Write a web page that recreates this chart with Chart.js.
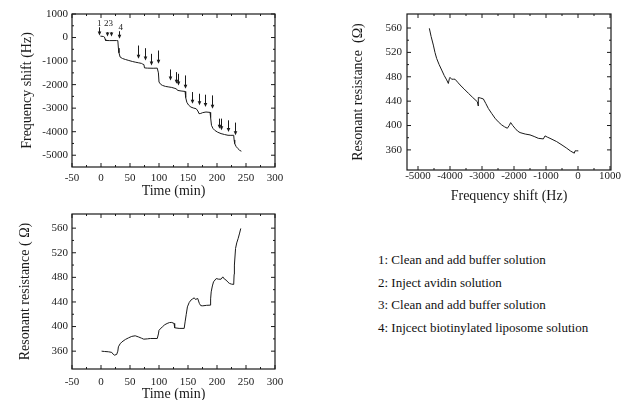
<!DOCTYPE html>
<html>
<head>
<meta charset="utf-8">
<script src="https://cdn.jsdelivr.net/npm/chart.js@4.4.0/dist/chart.umd.min.js"></script>
<style>
  body { margin: 0; width: 631px; height: 400px; overflow: hidden; background: #fff; position: relative; }
  .pane { position: absolute; }
  .note { position: absolute; left: 378px; font: 13px 'Liberation Serif', serif; color: #111; white-space: nowrap; line-height: 16px; }
</style>
</head>
<body>
<div class="pane" style="left:0;top:0"><canvas id="freqChart" width="320" height="200"></canvas></div>
<div class="pane" style="left:320px;top:0"><canvas id="xyChart" width="311" height="205"></canvas></div>
<div class="pane" style="left:0;top:200px"><canvas id="resChart" width="320" height="203"></canvas></div>
<div id="notes"></div>
<script>
// 周波数シフト vs 時間
const timeF = [-1, 4, 6, 7, 8, 15, 27, 29, 30, 31, 33, 37, 42, 48, 54, 60, 65, 70, 72, 74, 75, 80, 90, 97, 99, 100, 103, 106, 111, 117, 122, 126, 130, 132, 138, 145, 146, 148, 151, 155, 160, 164, 167, 169, 172, 175, 181, 188, 189, 190.5, 193, 196, 201, 207, 213, 219, 224, 228.8, 229.5, 230.5, 233, 236, 239, 242];
const freqShift = [60, 45, 20, -60, -125, -130, -128, -130, -450, -650, -830, -890, -932, -975, -1017, -1050, -1074, -1100, -1130, -1150, -1290, -1300, -1305, -1300, -1500, -1890, -1990, -2034, -2075, -2100, -2120, -2150, -2180, -2245, -2270, -2290, -2550, -2750, -2870, -2954, -3000, -3022, -3120, -3235, -3225, -3192, -3164, -3180, -3400, -3730, -3860, -3940, -4020, -4082, -4120, -4153, -4155, -4153, -4350, -4505, -4630, -4717, -4790, -4830];

// 共振抵抗 vs 時間
const timeR = [1, 6, 12.8, 18.6, 21, 23, 27, 29, 30, 33, 36, 42, 47.6, 53, 59, 65, 70, 73.7, 80, 85, 97, 99, 100, 105.7, 110, 114, 118, 122, 126, 127, 134.7, 143.4, 145, 147, 149, 152, 155, 158, 160.8, 163, 166.7, 169.6, 172, 175.4, 182, 188, 189, 190, 192, 194, 198.6, 203, 207, 210, 213, 216, 219, 221.8, 225, 228.8, 229.5, 230, 232, 234, 236.4, 239, 241];
const resistTime = [360, 359.5, 359, 358, 355, 353.5, 354.6, 360, 367, 372, 375, 379, 381.7, 384, 385, 383, 381, 379.5, 380, 380.6, 380.6, 388, 394, 399.5, 403, 405, 406.5, 406.7, 405, 398, 397, 397, 407.6, 420, 432, 439, 443, 445, 446.7, 444, 445.7, 437.6, 434, 433.7, 434.5, 434.8, 445, 456.4, 466, 472.7, 478, 477, 477, 480.8, 477, 475.4, 472, 470, 469, 468.5, 485, 500, 527, 536, 543, 552, 559.5];

// 共振抵抗 vs 周波数シフト
const shiftR = [-4646, -4590, -4521, -4470, -4417, -4340, -4260, -4180, -4104, -4052, -4020, -4000, -3950, -3896, -3844, -3760, -3687, -3560, -3427, -3290, -3146, -3115, -3115, -3040, -2958, -2880, -2802, -2700, -2594, -2490, -2385, -2300, -2208, -2150, -2104, -2040, -1969, -1890, -1812, -1650, -1500, -1370, -1240, -1083, -1031, -960, -875, -667, -500, -354, -230, -115, -94, -40, 10];
const resistShift = [559.5, 546, 532, 520, 510, 500, 491, 482, 474.8, 469, 477, 479, 476, 476, 476, 471, 466.6, 460, 453, 446, 439, 432, 446, 445, 443.6, 436, 428, 420, 412, 406, 401, 398, 395.5, 400, 404.8, 400, 395.5, 391, 388.4, 386, 384.6, 382, 379, 378, 383, 381, 379, 373.6, 368, 362.8, 358, 354.6, 358.4, 358.5, 358.4];

// 注入の矢印 (時間, 上端, 先端)
const arrowTime = [-3, 11, 17, 31, 64, 75.4, 86.6, 98.8, 118.5, 129, 132.4, 145, 156.8, 168.5, 180, 191.6, 203.3, 206.8, 219, 230.5];
const arrowTop = [436, 226, 226, 268, -339, -453, -692, -551, -1356, -1470, -1540, -1610, -2316, -2387, -2429, -2458, -3445, -3445, -3517, -3614];
const arrowTip = [85, 42, 42, -55, -903, -975, -1186, -1115, -1822, -1962, -2034, -2175, -2810, -2880, -2953, -3022, -3870, -3940, -4013, -4153];
const arrowText = ['1', '23', '4'];
const arrowTextTime = [-3, 13, 34];
const arrowTextFreq = [590, 590, 440];

// 目盛り
const timeTicks = [-50, 0, 50, 100, 150, 200, 250, 300];
const freqTicks = [1000, 0, -1000, -2000, -3000, -4000, -5000];
const ohmTicks = [360, 400, 440, 480, 520, 560];
const shiftTicks = [-5000, -4000, -3000, -2000, -1000, 0, 1000];

const notes = [
    '1: Clean and add buffer solution',
    '2: Inject avidin solution',
    '3: Clean and add buffer solution',
    '4: Injcect biotinylated liposome solution'
];
const noteCenters = [260, 282.5, 305, 327.5];

const serif = "'Liberation Serif', 'Times New Roman', serif";
const ink = '#1a1a1a';

const noteBox = document.getElementById('notes');
notes.forEach((t, i) => {
    const d = document.createElement('div');
    d.className = 'note';
    d.style.top = (noteCenters[i] - 8) + 'px';
    d.textContent = t;
    noteBox.appendChild(d);
});

// 枠と内向きの目盛り
const framePlugin = {
    id: 'frame',
    afterDraw(chart) {
        const { ctx, chartArea: a, scales } = chart;
        ctx.save();
        ctx.strokeStyle = ink;
        ctx.lineWidth = 1.2;
        ctx.strokeRect(a.left, a.top, a.right - a.left, a.bottom - a.top);
        ctx.lineWidth = 1;
        ctx.beginPath();
        const xs = scales.x, ys = scales.y;
        const xv = xs.ticks.map(t => t.value);
        const yv = ys.ticks.map(t => t.value);
        const mids = v => v.slice(1).map((w, i) => (w + v[i]) / 2);
        const mark = (vals, len) => {
            vals.forEach(v => {
                const px = xs.getPixelForValue(v);
                ctx.moveTo(px, a.bottom); ctx.lineTo(px, a.bottom - len);
                ctx.moveTo(px, a.top); ctx.lineTo(px, a.top + len);
            });
        };
        const markY = (vals, len) => {
            vals.forEach(v => {
                const py = ys.getPixelForValue(v);
                ctx.moveTo(a.left, py); ctx.lineTo(a.left + len, py);
                ctx.moveTo(a.right, py); ctx.lineTo(a.right - len, py);
            });
        };
        mark(xv, 4); mark(mids(xv), 2);
        markY(yv, 4); markY(mids(yv), 2);
        ctx.stroke();
        ctx.restore();
    }
};

// 矢印
const arrowPlugin = {
    id: 'arrows',
    afterDatasetsDraw(chart) {
        const { ctx, scales: { x, y } } = chart;
        ctx.save();
        ctx.strokeStyle = ink;
        ctx.fillStyle = ink;
        ctx.lineWidth = 1;
        arrowTime.forEach((t, i) => {
            const px = Math.round(x.getPixelForValue(t)) + 0.5;
            const y0 = y.getPixelForValue(arrowTop[i]);
            const y1 = y.getPixelForValue(arrowTip[i]);
            ctx.beginPath();
            ctx.moveTo(px, y0); ctx.lineTo(px, y1 - 3);
            ctx.stroke();
            ctx.beginPath();
            ctx.moveTo(px - 1.8, y1 - 4); ctx.lineTo(px + 1.8, y1 - 4); ctx.lineTo(px, y1);
            ctx.closePath();
            ctx.fill();
        });
        ctx.font = '9px ' + serif;
        ctx.textAlign = 'center';
        ctx.textBaseline = 'middle';
        arrowText.forEach((s, i) => {
            ctx.fillText(s, x.getPixelForValue(arrowTextTime[i]), y.getPixelForValue(arrowTextFreq[i]));
        });
        ctx.restore();
    }
};

function pairs(xs, ys) {
    return xs.map((v, i) => ({ x: v, y: ys[i] }));
}

function axis(opts) {
    return {
        type: 'linear',
        min: opts.min,
        max: opts.max,
        grid: { display: false, drawTicks: false },
        border: { display: false },
        afterBuildTicks: s => { s.ticks = opts.ticks.map(v => ({ value: v })); },
        afterFit: s => {
            if (opts.width) s.width = opts.width;
            if (opts.height) s.height = opts.height;
        },
        ticks: {
            padding: opts.pad,
            color: ink,
            font: { family: serif, size: 11 },
            autoSkip: false,
            maxRotation: 0,
            callback: v => String(v)
        },
        title: {
            display: true,
            text: opts.title,
            color: ink,
            font: { family: serif, size: 14 },
            padding: { top: opts.titlePad || 0, bottom: 0 }
        }
    };
}

function makeChart(id, data, xOpts, yOpts, padding, plugins) {
    return new Chart(document.getElementById(id), {
        type: 'scatter',
        data: {
            datasets: [{
                data: data,
                showLine: true,
                borderColor: ink,
                borderWidth: 1,
                pointRadius: 0,
                tension: 0
            }]
        },
        options: {
            responsive: false,
            animation: false,
            layout: { padding: padding },
            plugins: { legend: { display: false }, tooltip: { enabled: false } },
            scales: { x: axis(xOpts), y: axis(yOpts) }
        },
        plugins: plugins
    });
}

makeChart('freqChart', pairs(timeF, freqShift),
    { min: -50, max: 300, ticks: timeTicks, height: 33, pad: 5, title: 'Time (min)' },
    { min: -5500, max: 1000, ticks: freqTicks, width: 72, pad: 4, title: 'Frequency shift (Hz)', titlePad: 18.6 },
    { left: 0, top: 14, right: 45, bottom: 0 },
    [framePlugin, arrowPlugin]);

makeChart('xyChart', pairs(shiftR, resistShift),
    { min: -5344, max: 1031, ticks: shiftTicks, height: 35, pad: 0, title: 'Frequency shift (Hz)' },
    { min: 327, max: 583, ticks: ohmTicks, width: 87, pad: 5, title: 'Resonant resistance  (\u03A9)', titlePad: 29.6 },
    { left: 0, top: 14, right: 20, bottom: 0 },
    [framePlugin]);

makeChart('resChart', pairs(timeR, resistTime),
    { min: -50, max: 300, ticks: timeTicks, height: 34, pad: 7, title: 'Time (min)' },
    { min: 331, max: 583, ticks: ohmTicks, width: 72, pad: 4, title: 'Resonant resistance ( \u03A9)', titlePad: 16.6 },
    { left: 0, top: 14, right: 45, bottom: 0 },
    [framePlugin]);
</script>
</body>
</html>
